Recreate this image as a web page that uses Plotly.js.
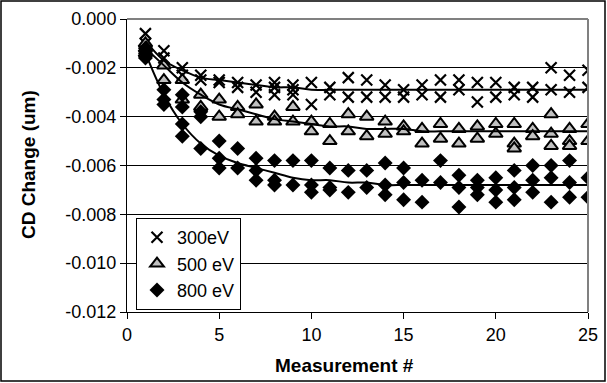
<!DOCTYPE html>
<html><head><meta charset="utf-8">
<script src="https://cdn.plot.ly/plotly-3.0.1.min.js"></script>
<style>html,body{margin:0;padding:0;background:#fff;}#chart{width:607px;height:383px;}</style>
</head><body><div id="chart"></div>
<script>
// Measurement numbers
const measurement = [1,2,3,4,5,6,7,8,9,10,11,12,13,14,15,16,17,18,19,20,21,22,23,24,25];
// CD change readings (um) per measurement, several sites each
const cd300 = [[-0.0006,-0.0010],[-0.0013,-0.0016],[-0.0020,-0.0023],[-0.0023,-0.0025],[-0.0025,-0.0026],
  [-0.0026,-0.0028],[-0.0027,-0.0030],[-0.0026,-0.0028,-0.0031],[-0.0027,-0.0029,-0.0031],[-0.0026,-0.0035],
  [-0.0028,-0.0031],[-0.0024,-0.0032],[-0.0025,-0.0032],[-0.0027,-0.0032],[-0.0029,-0.0032],
  [-0.0027,-0.0031],[-0.0025,-0.0032],[-0.0025,-0.0029],[-0.0026,-0.0034],[-0.0026,-0.0032],
  [-0.0028,-0.0031],[-0.0028,-0.0032],[-0.0020,-0.0029],[-0.0023,-0.0030],[-0.0021,-0.0028]];
const cd500 = [[-0.0010,-0.0012,-0.0014],[-0.0019,-0.0025],[-0.0025,-0.0033],[-0.0031,-0.0036],[-0.0033,-0.0040],
  [-0.0036,-0.0039],[-0.0035,-0.0042],[-0.0040,-0.0042],[-0.0036,-0.0042],[-0.0042,-0.0046],
  [-0.0043,-0.0050],[-0.0039,-0.0046],[-0.0040,-0.0048],[-0.0042,-0.0047],[-0.0044,-0.0046],
  [-0.0045,-0.0051],[-0.0043,-0.0049],[-0.0045,-0.0051],[-0.0044,-0.0049],[-0.0043,-0.0047],
  [-0.0043,-0.0051,-0.0053],[-0.0045,-0.0048],[-0.0039,-0.0047,-0.0052],[-0.0045,-0.0050,-0.0052],[-0.0043,-0.0050]];
const cd800 = [[-0.0012,-0.0014,-0.0016],[-0.0029,-0.0033,-0.0035],[-0.0031,-0.0036,-0.0043,-0.0048],[-0.0038,-0.0040,-0.0053],[-0.0050,-0.0057,-0.0061],
  [-0.0053,-0.0061],[-0.0057,-0.0062,-0.0066],[-0.0058,-0.0066,-0.0068],[-0.0058,-0.0068],[-0.0058,-0.0068,-0.0071],
  [-0.0061,-0.0069,-0.0070],[-0.0062,-0.0071],[-0.0062,-0.0069],[-0.0059,-0.0068,-0.0072],[-0.0061,-0.0067,-0.0074],
  [-0.0066,-0.0075],[-0.0058,-0.0067],[-0.0064,-0.0069,-0.0077],[-0.0066,-0.0069,-0.0072],[-0.0065,-0.0070,-0.0075],
  [-0.0062,-0.0069,-0.0074],[-0.0060,-0.0066,-0.0071],[-0.0060,-0.0065,-0.0075],[-0.0058,-0.0067,-0.0073],[-0.0065,-0.0073]];
// Trend lines
const trend300 = [-0.0009,-0.0017,-0.0021,-0.0024,-0.0025,-0.0026,-0.0027,-0.0028,-0.0028,-0.0029,-0.0029,-0.0029,-0.0029,-0.0029,-0.0029,-0.0029,-0.0029,-0.0029,-0.0029,-0.0029,-0.0029,-0.0029,-0.0029,-0.0029,-0.0029];
const trend500 = [-0.0012,-0.0019,-0.0026,-0.0031,-0.0035,-0.0037,-0.0039,-0.0041,-0.0042,-0.0043,-0.0044,-0.0044,-0.0045,-0.0045,-0.0045,-0.0046,-0.0046,-0.0046,-0.0046,-0.0046,-0.0046,-0.0046,-0.0046,-0.0046,-0.0046];
const trend800 = [-0.0014,-0.0031,-0.0043,-0.0051,-0.0056,-0.0059,-0.0061,-0.0063,-0.0065,-0.0066,-0.0066,-0.0067,-0.0067,-0.0068,-0.0068,-0.0068,-0.0068,-0.0068,-0.0068,-0.0068,-0.0068,-0.0068,-0.0068,-0.0068,-0.0068];
const seriesNames = ['300eV','500 eV','800 eV'];
const yTickVals = [0,-0.002,-0.004,-0.006,-0.008,-0.010,-0.012];
const yTickText = ['0.000','-0.002','-0.004','-0.006','-0.008','-0.010','-0.012'];
const xTickVals = [0,5,10,15,20,25];

function flat(groups){
  const xs=[], ys=[];
  groups.forEach((g,i)=>g.forEach(v=>{xs.push(measurement[i]); ys.push(v);}));
  return {x:xs,y:ys};
}
const p300=flat(cd300), p500=flat(cd500), p800=flat(cd800);
const font = 'Arial, "Liberation Sans", sans-serif';

const traces = [
  {x:p300.x,y:p300.y,name:seriesNames[0],type:'scatter',mode:'markers',
   marker:{symbol:'x-thin-open',size:11,color:'#000',line:{color:'#000',width:2.2}}},
  {x:p500.x,y:p500.y,name:seriesNames[1],type:'scatter',mode:'markers',
   marker:{symbol:'triangle-up',size:12,color:'#c0c0c0',line:{color:'#000',width:2}}},
  {x:p800.x,y:p800.y,name:seriesNames[2],type:'scatter',mode:'markers',
   marker:{symbol:'diamond',size:11.5,color:'#000',line:{color:'#000',width:0}}},
  {x:measurement,y:trend300,type:'scatter',mode:'lines',showlegend:false,line:{color:'#000',width:2,shape:'spline'}},
  {x:measurement,y:trend500,type:'scatter',mode:'lines',showlegend:false,line:{color:'#000',width:2,shape:'spline'}},
  {x:measurement,y:trend800,type:'scatter',mode:'lines',showlegend:false,line:{color:'#000',width:2,shape:'spline'}}
];

const L=127, R=588, T=19, B=312, W=607, H=383;
const px = v => (v-L)/(R-L);
const py = v => (B-v)/(B-T);

const layout = {
  width:W, height:H,
  margin:{l:L, r:W-R, t:T, b:H-B, pad:0},
  paper_bgcolor:'#fff', plot_bgcolor:'#fff',
  font:{family:font, size:18, color:'#000'},
  showlegend:true,
  legend:{x:px(136), y:py(218), xanchor:'left', yanchor:'top', bgcolor:'#fff',
    bordercolor:'#000', borderwidth:1, font:{family:font,size:18,color:'#000'},
    itemwidth:30, tracegroupgap:0},
  xaxis:{range:[0,25], tickvals:xTickVals, ticks:'outside', ticklen:6, tickcolor:'#000',
    showline:true, linecolor:'#000', linewidth:1, showgrid:false, zeroline:false,
    tickfont:{family:font,size:18,color:'#000'}},
  yaxis:{range:[-0.012,0], tickvals:yTickVals, ticktext:yTickText, ticks:'outside', ticklen:6, tickcolor:'#000',
    showline:true, linecolor:'#000', linewidth:1, showgrid:true, gridcolor:'#000', gridwidth:1, zeroline:false,
    tickfont:{family:font,size:18,color:'#000'}},
  annotations:[
    {text:'<b>Measurement #</b>', xref:'paper', yref:'paper', x:px(344), y:py(365), xanchor:'center', yanchor:'middle',
     showarrow:false, font:{family:font,size:19,color:'#000'}},
    {text:'<b>CD Change (um)</b>', xref:'paper', yref:'paper', x:px(28), y:py(165), xanchor:'center', yanchor:'middle',
     textangle:-90, showarrow:false, font:{family:font,size:19,color:'#000'}}
  ],
  shapes:[
    {type:'line', xref:'paper', yref:'paper', x0:0, x1:1, y0:1, y1:1, line:{color:'#808080',width:2}},
    {type:'line', xref:'paper', yref:'paper', x0:1, x1:1, y0:0, y1:1, line:{color:'#808080',width:2}},
    {type:'rect', xref:'paper', yref:'paper', x0:px(1), x1:px(605), y0:py(381), y1:py(1), line:{color:'#000',width:1.5}}
  ]
};
Plotly.newPlot('chart', traces, layout, {displayModeBar:false, staticPlot:true});
</script></body></html>
